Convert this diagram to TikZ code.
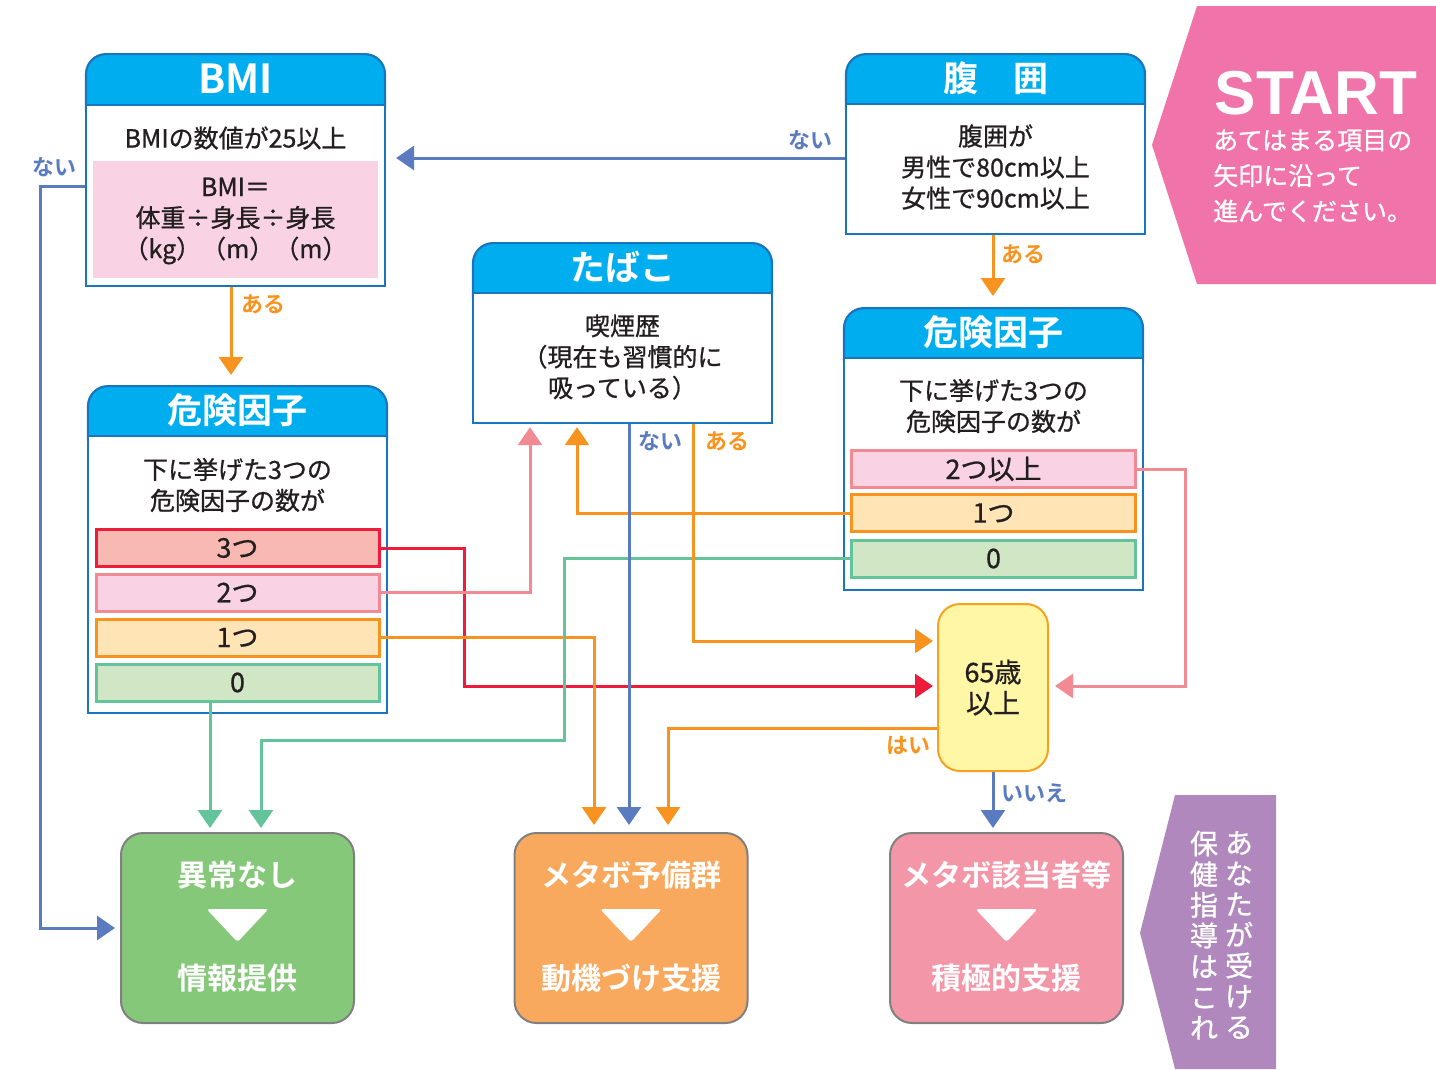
\documentclass[tikz,border=0pt]{standalone}
\usepackage{fontspec}
\setmainfont{Noto Sans CJK JP}[BoldFont={Noto Sans CJK JP Bold}]
\newfontfamily\jpmed{Noto Sans CJK JP}[FakeBold=0.8]
\newfontfamily\libsans{Liberation Sans}
\usetikzlibrary{arrows.meta,calc}
\definecolor{cCyan}{HTML}{00AEEF}
\definecolor{cBord}{HTML}{1B75BC}
\definecolor{cDark}{HTML}{231F20}
\definecolor{cBlue}{HTML}{5B7BC1}
\definecolor{cOrange}{HTML}{F7931E}
\definecolor{cRed}{HTML}{EC1C3A}
\definecolor{cPink}{HTML}{F28A94}
\definecolor{cGreen}{HTML}{63C39B}
\definecolor{fRed}{HTML}{F9B9B3}
\definecolor{fPink}{HTML}{F9D3E4}
\definecolor{fOrange}{HTML}{FFE4B6}
\definecolor{fGreen}{HTML}{D0E6C4}
\definecolor{fAge}{HTML}{FFF6A6}
\definecolor{bAge}{HTML}{F7A21E}
\definecolor{fOk}{HTML}{86C87A}
\definecolor{fMb}{HTML}{F9A95E}
\definecolor{fGai}{HTML}{F397A8}
\definecolor{cGray}{HTML}{808080}
\definecolor{cStart}{HTML}{F074A9}
\definecolor{cPurple}{HTML}{B088BD}
\tikzset{
 head/.style={draw=cBord, fill=cCyan, line width=2.2pt, rounded corners=20pt, minimum width=299pt, inner sep=0pt, anchor=north},
 bodybox/.style={draw=cBord, fill=white, line width=2.2pt, minimum width=299pt, inner sep=0pt, anchor=north},
 htitle/.style={text=white, font=\bfseries\fontsize{35}{38}\selectfont},
 btext/.style={text=cDark, font=\jpmed\fontsize{25}{31}\selectfont, align=center, inner sep=0pt},
 rowbox/.style={line width=3pt, minimum width=283pt, minimum height=37pt, inner sep=0pt, text=cDark, font=\jpmed\fontsize{27}{30}\selectfont},
 conn/.style={line width=3pt, -{Triangle[width=24pt,length=18pt]}},
 lab/.style={font=\bfseries\fontsize{22}{26}\selectfont, inner sep=0pt},
 resbox/.style={draw=cGray, line width=2pt, rounded corners=22pt, minimum width=233pt, minimum height=190pt, inner sep=0pt},
 rtext/.style={text=white, font=\bfseries\fontsize{30}{34}\selectfont, inner sep=0pt},
}
\begin{document}
\begin{tikzpicture}[x=1pt,y=-1pt]
\useasboundingbox (0,0) rectangle (1436,1069);
% START banner
\fill[cStart] (1152,145) -- (1197,6) -- (1436,6) -- (1436,284) -- (1197,284) -- cycle;
\node[text=white, font=\libsans\bfseries\fontsize{62}{62}\selectfont, inner sep=0pt] (st1) at (1316,93) {START};
\node[anchor=west, text=white, font=\jpmed\fontsize{25}{35.5}\selectfont, align=left, inner sep=0pt] (st2) at (1213,176) {あてはまる項目の\\矢印に沿って\\進んでください。};
% purple banner
\fill[cPurple] (1140,933) -- (1175,795) -- (1276,795) -- (1276,1069) -- (1175,1069) -- cycle;
\node[text=white, font=\jpmed\fontsize{28}{30.7}\selectfont, align=center, inner sep=0pt] (pv1) at (1239,935) {あ\\な\\た\\が\\受\\け\\る};
\node[text=white, font=\jpmed\fontsize{28}{30.7}\selectfont, align=center, inner sep=0pt] (pv2) at (1204,935) {保\\健\\指\\導\\は\\こ\\れ};
% BMI box
\node[head, minimum height=75pt] (bmiH) at (235.5,53) {};
\node[bodybox, minimum height=181pt] (bmiB) at (235.5,104) {};
\node[htitle, font=\bfseries\fontsize{40}{42}\selectfont] (bmiT) at (235.5,79) {BMI};
\node[btext] (bmiX) at (235.5,138) {BMIの数値が25以上};
\node[fill=fPink, minimum width=285pt, minimum height=117pt, inner sep=0pt] (bmiF) at (235.5,219.5) {};
\node[btext] (bmiFX) at (235.5,221) {BMI＝\\体重÷身長÷身長\\（kg）（m）（m）};
% waist box
\node[head, minimum height=74pt] (fukuH) at (995.5,53) {};
\node[bodybox, minimum height=130pt] (fukuB) at (995.5,103) {};
\node[htitle] (fukuT) at (995.5,78) {腹　囲};
\node[btext] (fukuX) at (995.5,167) {腹囲が\\男性で80cm以上\\女性で90cm以上};
% tobacco box
\node[head, minimum height=74pt] (tabH) at (622.5,242) {};
\node[bodybox, minimum height=130pt] (tabB) at (622.5,292) {};
\node[htitle] (tabT) at (622.5,267) {たばこ};
\node[btext] (tabX) at (622.5,357) {喫煙歴\\（現在も習慣的に\\吸っている）};
% left risk box
\node[head, minimum height=74pt] (rk1H) at (237.5,385) {};
\node[bodybox, minimum height=277pt] (rk1B) at (237.5,435) {};
\node[htitle] (rk1T) at (237.5,410) {危険因子};
\node[btext] (rk1X) at (237.5,485) {下に挙げた3つの\\危険因子の数が};
\node[rowbox, draw=cRed, fill=fRed] (r3) at (237.5,548) {3つ};
\node[rowbox, draw=cPink, fill=fPink] (r2) at (237.5,592.5) {2つ};
\node[rowbox, draw=cOrange, fill=fOrange] (r1) at (237.5,637.5) {1つ};
\node[rowbox, draw=cGreen, fill=fGreen] (r0) at (237.5,682.5) {0};
% right risk box
\node[head, minimum height=74pt] (rk2H) at (993.5,307) {};
\node[bodybox, minimum height=232pt] (rk2B) at (993.5,357) {};
\node[htitle] (rk2T) at (993.5,332) {危険因子};
\node[btext] (rk2X) at (993.5,406) {下に挙げた3つの\\危険因子の数が};
\node[rowbox, minimum width=284pt, draw=cPink, fill=fPink] (q2) at (993.5,469) {2つ以上};
\node[rowbox, minimum width=284pt, draw=cOrange, fill=fOrange] (q1) at (993.5,513) {1つ};
\node[rowbox, minimum width=284pt, draw=cGreen, fill=fGreen] (q0) at (993.5,558.5) {0};
% age box
\node[draw=bAge, fill=fAge, line width=2pt, rounded corners=22pt, minimum width=110pt, minimum height=167pt, inner sep=0pt, text=cDark, font=\jpmed\fontsize{27}{31}\selectfont, align=center] (age) at (993,687.5) {65歳\\以上};
% result boxes
\node[resbox, fill=fOk] (ok) at (237.5,928) {};
\node[rtext] (okA) at ($(ok)+(0,-53)$) {異常なし};
\node[rtext] (okB) at ($(ok)+(0,50)$) {情報提供};
\fill[white, rounded corners=3pt] ($(ok)+(-31,-19)$) -- ($(ok)+(31,-19)$) -- ($(ok)+(0,14)$) -- cycle;
\node[resbox, fill=fMb] (mb) at (631,928) {};
\node[rtext] (mbA) at ($(mb)+(0,-53)$) {メタボ予備群};
\node[rtext] (mbB) at ($(mb)+(0,50)$) {動機づけ支援};
\fill[white, rounded corners=3pt] ($(mb)+(-31,-19)$) -- ($(mb)+(31,-19)$) -- ($(mb)+(0,14)$) -- cycle;
\node[resbox, fill=fGai] (gai) at (1006.5,928) {};
\node[rtext] (gaiA) at ($(gai)+(0,-53)$) {メタボ該当者等};
\node[rtext] (gaiB) at ($(gai)+(0,50)$) {積極的支援};
\fill[white, rounded corners=3pt] ($(gai)+(-31,-19)$) -- ($(gai)+(31,-19)$) -- ($(gai)+(0,14)$) -- cycle;
% helper coordinates
\coordinate (y158) at (0,158);
\coordinate (y186) at (0,186);
\coordinate (y641) at (0,641);
\coordinate (y728) at (0,728);
\coordinate (x210) at (210,0);
\coordinate (x231) at (231,0);
\coordinate (x261) at (261,0);
\coordinate (x530) at (530,0);
\coordinate (x577) at (577,0);
\coordinate (x594) at (594,0);
\coordinate (x629) at (629,0);
\coordinate (x668) at (668,0);
\coordinate (x693) at (693,0);
\coordinate (x993) at (993,0);
\coordinate (c4) at (40,928);
\coordinate (c5) at (464,686);
\coordinate (c9) at (1185,686);
\coordinate (c11) at (564,740);
% connectors
\draw[conn, cBlue, shorten >=10pt] (fukuB.west |- y158) -- (bmiB.east |- y158);
\draw[conn, cOrange, shorten >=11pt] (fukuB.south -| x993) -- (rk2H.north -| x993);
\draw[conn, cOrange, shorten >=10pt] (bmiB.south -| x231) -- (rk1H.north -| x231);
\draw[conn, cBlue, shorten >=5pt] (bmiB.west |- y186) -| (c4) -- (ok.west);
\draw[conn, cRed, shorten >=4pt] (r3.east) -| (c5) -- (age.west |- c5);
\draw[conn, cPink, shorten >=3pt] (r2.east) -| (tabB.south -| x530);
\draw[conn, cOrange, shorten >=7pt] (r1.east) -| (mb.north -| x594);
\draw[conn, cGreen, shorten >=4pt] (r0.south -| x210) -- (ok.north -| x210);
\draw[conn, cPink, shorten >=6pt] (q2.east) -| (c9) -- (age.east |- c9);
\draw[conn, cOrange, shorten >=3pt] (q1.west) -| (tabB.south -| x577);
\draw[conn, cGreen, shorten >=4pt] (q0.west) -| (c11) -| (ok.north -| x261);
\draw[conn, cBlue, shorten >=7pt] (tabB.south -| x629) -- (mb.north -| x629);
\draw[conn, cOrange, shorten >=4pt] (tabB.south -| x693) |- (age.west |- y641);
\draw[conn, cOrange, shorten >=7pt] (age.west |- y728) -| (mb.north -| x668);
\draw[conn, cBlue, shorten >=4pt] (age.south) -- (age.south |- gai.north);
% labels
\node[lab, text=cBlue] (l1) at (810,140) {ない};
\node[lab, text=cBlue] (l2) at (54,167) {ない};
\node[lab, text=cOrange] (l3) at (1023,254) {ある};
\node[lab, text=cOrange] (l4) at (263,304) {ある};
\node[lab, text=cBlue] (l5) at (660,441) {ない};
\node[lab, text=cOrange] (l6) at (727,441) {ある};
\node[lab, text=cOrange] (l7) at (908,745) {はい};
\node[lab, text=cBlue] (l8) at (1034,793) {いいえ};
\end{tikzpicture}
\end{document}
